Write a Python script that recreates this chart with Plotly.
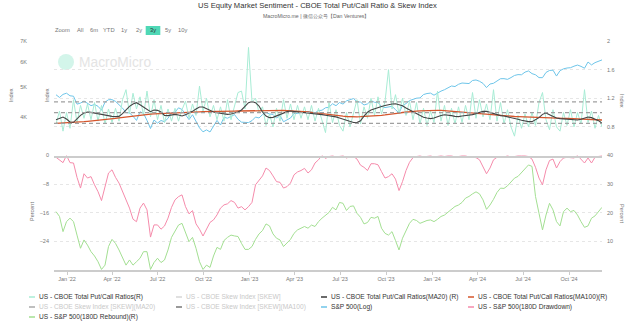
import plotly.graph_objects as go
import pandas as pd

# ---------------- data (weekly samples) ----------------
week_dates = pd.date_range("2021-12-10", periods=157, freq="7D")

sp500_log = [4712, 4620, 4725, 4766,
    4677, 4662, 4398, 4432, 4500, 4419, 4349, 4385, 4329, 4204, 4463, 4543, 4546, 4488, 4393, 4272,
    4132, 4123, 4024, 3901, 4158, 4109, 3901, 3675, 3912, 3825, 3899, 3863, 3962, 4130, 4145, 4280,
    4228, 4058, 3924, 4067, 3873, 3693, 3586, 3639, 3583, 3752, 3901, 3771, 3993, 3965, 4026, 4072,
    3934, 3852, 3845, 3840,
    3895, 3999, 3972, 4071, 4136, 4090, 4079, 3970, 4046, 3862, 3917, 3971, 4109, 4105, 4137, 4133,
    4169, 4136, 4124, 4192, 4205, 4282, 4299, 4410, 4348, 4450, 4399, 4505, 4536, 4582, 4478, 4464,
    4370, 4406, 4516, 4457, 4450, 4320, 4288, 4308, 4327, 4224, 4117, 4358, 4415, 4514, 4559, 4595,
    4604, 4719, 4755, 4770,
    4697, 4784, 4840, 4891, 4959, 5027, 5006, 5089, 5137, 5124, 5117, 5234, 5254, 5204, 5123, 4967,
    5100, 5128, 5223, 5303, 5305, 5278, 5347, 5432, 5465, 5460, 5567, 5615, 5505, 5459, 5346, 5344,
    5554, 5634, 5648, 5408, 5626, 5703, 5738, 5751, 5815, 5864, 5808, 5729, 5996, 5870, 5969, 6032,
    6090]

put_call = [0.84, 1.02, 0.74, 1.00, 0.78, 1.18, 0.86, 1.10, 0.92, 1.12,
    0.90, 1.14, 0.88, 1.10, 0.84, 1.05, 0.86, 1.06, 0.88, 1.18,
    1.32, 0.98, 1.27, 1.05, 1.22, 0.96, 1.30, 0.94, 1.18, 0.90,
    1.10, 0.86, 1.05, 0.88, 1.06, 0.88, 1.04, 1.16, 0.92, 1.12,
    0.96, 1.37, 1.02, 1.20, 0.94, 1.10, 0.90, 1.08, 0.88, 1.18,
    0.90, 1.10, 1.28, 1.30, 1.05, 1.91, 1.15, 1.20, 1.00, 1.08,
    0.82, 0.98, 0.80, 1.06, 0.88, 1.18, 0.92, 1.12, 0.90, 1.10,
    0.92, 1.08, 0.90, 1.10, 0.88, 1.06, 0.90, 0.72, 1.14, 0.86,
    1.04, 0.82, 0.74, 1.00, 0.80, 0.98, 1.18, 0.84, 1.08, 0.92,
    1.20, 0.96, 1.22, 0.98, 1.15, 1.60, 1.05, 1.25, 0.98, 1.20,
    0.96, 1.16, 0.90, 1.14, 0.84, 1.06, 0.82, 1.02, 0.86, 1.30,
    0.88, 1.10, 0.82, 1.06, 0.84, 1.08, 0.86, 1.10, 0.90, 1.28,
    0.92, 1.18, 0.94, 1.12, 0.90, 1.32, 0.88, 1.14, 0.84, 1.04,
    0.80, 0.67, 0.96, 0.78, 0.98, 0.80, 1.00, 0.82, 1.14, 1.28,
    0.90, 0.76, 1.04, 0.80, 0.74, 1.00, 0.82, 1.04, 0.80, 1.00,
    0.84, 1.32, 0.86, 1.02, 0.78, 0.96, 0.80]

put_call_ma20 = [0.900, 0.924, 0.938, 0.910, 0.868, 0.864, 0.915, 0.961, 0.994, 1.008,
    1.003, 0.994, 0.980, 0.966, 0.957, 0.952, 0.947, 0.943, 0.947, 0.985,
    1.036, 1.087, 1.120, 1.138, 1.110, 1.078, 1.045, 1.013, 1.036, 1.031,
    1.008, 0.961, 0.957, 0.966, 0.975, 0.966, 0.952, 0.971, 0.989, 1.017,
    1.050, 1.078, 1.078, 1.055, 1.022, 1.008, 0.999, 0.989, 0.980, 0.975,
    0.980, 0.989, 1.008, 1.036, 1.092, 1.138, 1.152, 1.138, 1.092, 1.008,
    0.952, 0.929, 0.933, 0.952, 0.980, 0.999, 1.013, 1.022, 1.013, 1.008,
    1.003, 0.999, 0.994, 0.989, 0.989, 0.985, 0.971, 0.962,
    0.958, 0.950, 0.940, 0.925, 0.910, 0.895, 0.875, 0.862, 0.860, 0.885,
    0.950, 1.005, 1.036, 1.055, 1.072, 1.085, 1.100, 1.115, 1.120, 1.124,
    1.110, 1.095, 1.065, 1.040, 1.005, 0.980, 0.958, 0.935, 0.924, 0.915,
    0.925, 0.945, 0.960, 0.970, 0.966, 0.957, 0.947, 0.943, 0.952, 0.957,
    0.961, 0.971, 0.985, 0.999, 1.017, 1.017, 1.003, 0.985, 0.966, 0.957,
    0.952, 0.943, 0.929, 0.915, 0.906, 0.892, 0.878, 0.873, 0.873, 0.896,
    0.929, 0.975, 0.995, 0.971, 0.943, 0.924, 0.915, 0.910, 0.906, 0.896,
    0.892, 0.896, 0.906, 0.924, 0.938, 0.929, 0.910, 0.887, 0.850]

put_call_ma100 = [0.850, 0.852, 0.853, 0.855, 0.857, 0.859, 0.863, 0.868, 0.873, 0.878,
    0.882, 0.887, 0.892, 0.896, 0.901, 0.905, 0.912, 0.918, 0.925, 0.932,
    0.938, 0.945, 0.951, 0.958, 0.965, 0.971, 0.975, 0.978, 0.982, 0.985,
    0.989, 0.991, 0.993, 0.995, 0.997, 0.999, 1.001, 1.003, 1.005, 1.007,
    1.009, 1.011, 1.013, 1.015, 1.017, 1.018, 1.018, 1.019, 1.019, 1.020,
    1.020, 1.021, 1.022, 1.023, 1.024, 1.025, 1.027, 1.029, 1.031, 1.033,
    1.035, 1.034, 1.033, 1.032, 1.031, 1.030, 1.028, 1.026, 1.024, 1.022,
    1.020, 1.014, 1.008, 1.002, 0.996, 0.990, 0.980, 0.970, 0.964, 0.960,
    0.957, 0.953, 0.949, 0.945, 0.941, 0.938, 0.940, 0.942, 0.944, 0.946,
    0.947, 0.952, 0.957, 0.962, 0.967, 0.971, 0.978, 0.986, 0.993, 1.001,
    1.008, 1.012, 1.016, 1.020, 1.024, 1.027, 1.028, 1.029, 1.030, 1.031,
    1.031, 1.027, 1.022, 1.017, 1.012, 1.008, 1.002, 0.997, 0.991, 0.986,
    0.980, 0.976, 0.972, 0.969, 0.965, 0.961, 0.958, 0.955, 0.953, 0.950,
    0.947, 0.945, 0.943, 0.942, 0.940, 0.938, 0.937, 0.936, 0.935, 0.934,
    0.933, 0.930, 0.928, 0.925, 0.923, 0.920, 0.918, 0.916, 0.914, 0.912,
    0.910, 0.908, 0.906, 0.904, 0.902, 0.900, 0.896]

drawdown_180d = [-0.5, -1.2, -2.0, 0, -2.0, -2.1, -6.1, -9.1, -5.1, -6.3,
    -5.9, -8.2, -10.1, -12.6, -9.1, -4.9, -4.0, -6.1, -7.7, -10.1,
    -12.2, -14.7, -17.8, -18.5, -14.7, -13.3, -15.2, -22.8, -19.4, -19.4,
    -20.6, -19.7, -17.5, -14.5, -12.4, -11.5, -11.0, -14.3, -16.3, -15.4,
    -19.1, -20.6, -22.5, -20.4, -18.7, -18.0, -16.6, -14.7, -13.8, -13.5,
    -12.6, -13.1, -14.7, -14.3, -15.2, -14.3, -13.1, -8.2, -6.8, -5.7,
    -3.5, -4.2, -5.7, -7.3, -7.5, -9.1, -8.7, -7.7, -5.4, -4.6,
    -4.2, -3.6, -4.9, -4.0, -2.1, -1.2, 0, -0.8, -0.3, 0,
    -0.5, -0.3, 0, -0.7, -0.3, -0.3, -1.0, -2.7, -3.3, -4.2,
    -2.3, -2.3, -2.6, -4.5, -6.3, -5.9, -5.1, -6.6, -9.8, -7.3,
    -4.2, -1.9, -0.6, -0.3, 0, -0.5, -0.3, 0, -0.5, -0.2,
    0, -0.3, 0, 0, -0.5, -0.3, 0, 0, -0.5, -0.5,
    -0.6, -1.2, -3.1, -5.1, -3.5, -1.2, -0.5, -0.6, -0.5, 0,
    -0.5, -0.3, 0, 0, 0, -0.3, -1.0, -3.3, -6.3, -8.2,
    -4.0, -1.4, -1.0, -3.5, -1.7, -0.7, -0.5, -0.6, -0.7, 0,
    -1.2, -2.1, -0.7, -2.1, -0.5, -0.3, 0]

rebound_180d = [20.4, 18.7, 13.4, 16.9, 18.1, 16.9, 12.2, 7.6, 10.5, 8.7,
    6.4, 4.9, 2.9, 0.2, 1.7, 8.2, 10.7, 9.3, 7.0, 4.1,
    1.7, 3.5, 1.7, 2.9, 4.1, 6.4, 6.4, 0.2, 2.6, 4.1,
    2.6, 3.5, 7.0, 11.4, 13.4, 15.7, 16.3, 12.8, 9.9, 11.4,
    7.6, 2.9, 0.2, 1.7, 0.9, 4.9, 7.9, 7.2, 10.3, 11.4,
    12.2, 11.9, 11.7, 9.3, 7.2, 7.2, 8.2, 10.7, 12.6, 13.8,
    16.1, 15.4, 12.6, 11.1, 10.5, 8.2, 9.3, 10.7, 12.8, 14.0,
    14.6, 15.2, 14.6, 15.7, 15.2, 16.9, 18.1, 19.2, 20.1, 21.9,
    21.0, 23.6, 23.3, 20.8, 22.2, 22.4, 19.8, 18.4, 16.1, 16.6,
    18.4, 18.1, 18.7, 14.6, 12.8, 12.2, 13.4, 10.3, 7.0, 11.1,
    14.0, 16.3, 17.7, 17.3, 16.3, 16.9, 17.3, 17.5, 16.9, 17.7,
    18.7, 19.2, 20.1, 21.2, 22.2, 22.7, 23.6, 25.1, 25.7, 26.6,
    27.3, 26.6, 24.5, 21.2, 22.7, 24.7, 27.1, 28.6, 28.5, 29.4,
    30.7, 32.1, 32.7, 34.1, 35.6, 36.7, 36.2, 25.7, 19.8, 14.0,
    19.2, 23.3, 21.0, 16.9, 15.4, 20.4, 21.6, 20.4, 20.8, 19.2,
    16.9, 14.9, 15.4, 18.1, 18.9, 20.4, 21.9]

band_levels = [0.85, 1.0, 1.15]

sp_ticks = [4000, 5000, 6000, 7000]
sp_tick_text = ["4K", "5K", "6K", "7K"]
pc_ticks = [0.8, 1.2, 1.6, 2]
dd_ticks = [0, -8, -16, -24]
rb_ticks = [10, 20, 30, 40]

range_buttons = ["Zoom", "All", "6m", "YTD", "1y", "2y", "3y", "5y", "10y"]
legend_items = [
    ("US - CBOE Total Put/Call Ratios(R)", "#a8ecd5", True),
    ("US - CBOE Skew Index [SKEW]", "#d6d6d6", False),
    ("US - CBOE Total Put/Call Ratios(MA20) (R)", "#3a3a3a", True),
    ("US - CBOE Total Put/Call Ratios(MA100)(R)", "#d5562d", True),
    ("US - CBOE Skew Index [SKEW](MA20)", "#aaaaaa", False),
    ("US - CBOE Skew Index [SKEW](MA100)", "#777777", False),
    ("S&P 500(Log)", "#6ec5e9", True),
    ("US - S&P 500(180D Drawdown)", "#f58bab", True),
    ("US - S&P 500(180D Rebound)(R)", "#a3df92", True),
]

# ---------------- layout helpers ----------------
W, H = 640, 323
ML, MR, MT, MB = 54, 38, 41, 53
PW, PH = W - ML - MR, H - MT - MB
FONT = "Liberation Sans, Arial, sans-serif"


def px(x):
    return (x - ML) / PW


def py(y):
    return (H - MB - y) / PH


def text_at(text, x, y, size, color, xanchor="center", angle=0):
    return dict(text=text, xref="paper", yref="paper", x=px(x), y=py(y),
                xanchor=xanchor, yanchor="middle", showarrow=False, textangle=angle,
                borderpad=0, font=dict(family=FONT, size=size, color=color))


fig = go.Figure()

# top panel
fig.add_trace(go.Scatter(x=week_dates, y=sp500_log, xaxis="x2", yaxis="y",
                         mode="lines", line=dict(color="#6ec5e9", width=1), hoverinfo="skip"))
fig.add_trace(go.Scatter(x=week_dates, y=put_call, xaxis="x2", yaxis="y2",
                         mode="lines", line=dict(color="#a8ecd5", width=1), hoverinfo="skip"))
fig.add_trace(go.Scatter(x=week_dates, y=put_call_ma100, xaxis="x2", yaxis="y2",
                         mode="lines", line=dict(color="#d5562d", width=1.3), hoverinfo="skip"))
fig.add_trace(go.Scatter(x=week_dates, y=put_call_ma20, xaxis="x2", yaxis="y2",
                         mode="lines", line=dict(color="#444444", width=1.1), hoverinfo="skip"))
# bottom panel
fig.add_trace(go.Scatter(x=week_dates, y=drawdown_180d, xaxis="x", yaxis="y3",
                         mode="lines", line=dict(color="#f58bab", width=1), hoverinfo="skip"))
fig.add_trace(go.Scatter(x=week_dates, y=rebound_180d, xaxis="x", yaxis="y4",
                         mode="lines", line=dict(color="#a3df92", width=1), hoverinfo="skip"))

for lv in band_levels:
    fig.add_shape(type="line", xref="paper", x0=0, x1=1, yref="y2", y0=lv, y1=lv,
                  line=dict(color="#a0a0a0", width=1.3, dash="4px,3px"), layer="above")

xr = ["2021-12-06", "2024-12-06"]
tickfont = dict(family=FONT, size=5.5, color="#777")

fig.update_layout(
    width=W, height=H, margin=dict(l=ML, r=MR, t=MT, b=MB),
    paper_bgcolor="white", plot_bgcolor="white", showlegend=False,
    font=dict(family=FONT, color="#444"),
    xaxis=dict(domain=[0, 1], anchor="y3", type="date", range=xr,
               tick0="2022-01-01", dtick="M3", tickformat="%b '%y",
               ticks="outside", ticklen=3, tickcolor="#cccccc",
               showline=True, linecolor="#cccccc", linewidth=1.5,
               showgrid=False, zeroline=False, tickfont=tickfont),
    xaxis2=dict(domain=[0, 1], anchor="y", type="date", range=xr, matches="x",
                showticklabels=False, ticks="", showline=True, linecolor="#cccccc",
                linewidth=1.5, showgrid=False, zeroline=False),
    yaxis=dict(domain=[0.5, 1], anchor="x2", type="log",
               range=[3.479, 3.8451], tickvals=sp_ticks, ticktext=sp_tick_text,
               showgrid=False, zeroline=False, ticks="", tickfont=tickfont,
               ticklabelstandoff=26),
    yaxis2=dict(domain=[0.5, 1], anchor="x2", overlaying="y", side="right",
                range=[0.4, 2.0], tickvals=pc_ticks, showgrid=True,
                gridcolor="#e6e6e6", griddash="dot", gridwidth=1,
                zeroline=False, ticks="", tickfont=tickfont, ticklabelstandoff=4),
    yaxis3=dict(domain=[0, 0.5], anchor="x", range=[-32, 0], tickvals=dd_ticks,
                showgrid=True, gridcolor="#e6e6e6", griddash="dot", gridwidth=1,
                zeroline=False, ticks="", tickfont=tickfont, ticklabelstandoff=4),
    yaxis4=dict(domain=[0, 0.5], anchor="x", overlaying="y3", side="right",
                range=[0, 40], tickvals=rb_ticks, showgrid=False, zeroline=False,
                ticks="", tickfont=tickfont, ticklabelstandoff=4),
)

ann = []
# titles
ann.append(text_at("US Equity Market Sentiment - CBOE Total Put/Call Ratio &amp; Skew Index",
                   317, 6, 7.6, "#333"))
ann.append(text_at("MacroMicro.me | 微信公众号【Dan Ventures】", 316, 16, 5.2, "#666"))
# axis titles
for t, x, y, ang in [("Index", 11, 95, -90), ("Index", 47, 95, -90), ("Index", 622, 101, 90),
                     ("Percent", 32, 212, -90), ("Percent", 622, 213, 90)]:
    ann.append(text_at(t, x, y, 5.5, "#777", angle=ang))
# range selector look-alike
btn_x = [62.5, 79.5, 93.5, 108.5, 123.5, 138.5, 153, 168, 182.5]
for label, x in zip(range_buttons, btn_x):
    ann.append(text_at(label, x, 30.5, 5.8, "#333" if label == "3y" else "#777"))
fig.add_shape(type="rect", xref="paper", yref="paper", x0=px(145.7), x1=px(160.3),
              y0=py(35), y1=py(26), fillcolor="#4fd8b6", line=dict(width=0), layer="below")
# watermark
fig.add_shape(type="circle", xref="paper", yref="paper", x0=px(58), x1=px(74),
              y0=py(70), y1=py(54), fillcolor="#d3f5ea", line=dict(width=0), layer="below")
ann.append(text_at("MacroMicro", 78, 62, 13.8, "#e4e4e4", xanchor="left"))
# custom legend
col_x = [29, 176, 321, 468]
row_y = [297, 307, 317]
for k, (name, color, on) in enumerate(legend_items):
    r, c = divmod(k, 4)
    x0, yy = col_x[c], row_y[r]
    fig.add_shape(type="line", xref="paper", yref="paper", x0=px(x0), x1=px(x0 + 6),
                  y0=py(yy), y1=py(yy), line=dict(color=color, width=1.5))
    ann.append(text_at(name.replace("&", "&amp;"), x0 + 9, yy, 6.6,
                       "#333" if on else "#c8c8c8", xanchor="left"))

fig.update_layout(annotations=ann)
fig.write_html("out.html")
